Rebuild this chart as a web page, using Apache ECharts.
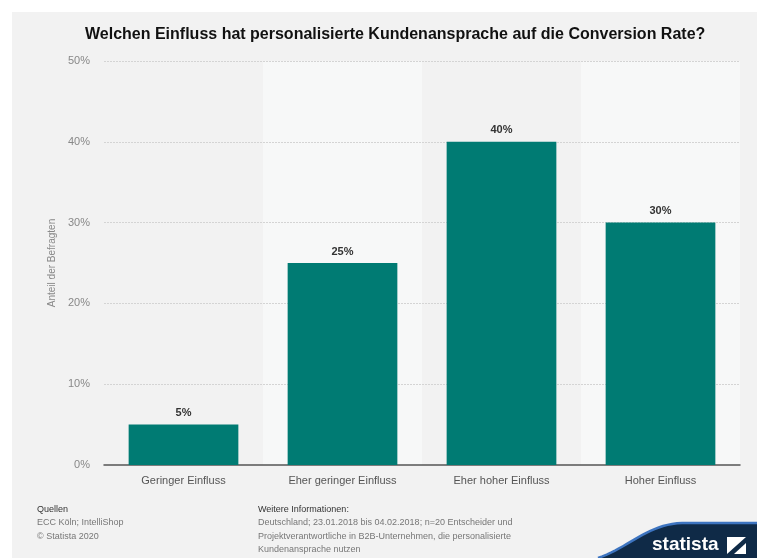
<!DOCTYPE html>
<html>
<head>
<meta charset="utf-8">
<script src="https://cdn.jsdelivr.net/npm/echarts@6/dist/echarts.min.js"></script>
<style>
html,body{margin:0;padding:0;background:#fff;}
#wrap{position:relative;width:757px;height:558px;}
#panel{position:absolute;left:12px;top:12px;right:0;bottom:0;background:#f2f2f2;}
#chart{position:absolute;left:0;top:0;width:757px;height:558px;}
</style>
</head>
<body>
<div id="wrap"><div id="panel"></div><div id="chart"></div></div>
<script>
const titleText = 'Welchen Einfluss hat personalisierte Kundenansprache auf die Conversion Rate?';
const categories = ['Geringer Einfluss', 'Eher geringer Einfluss', 'Eher hoher Einfluss', 'Hoher Einfluss'];
const values = [5, 25, 40, 30];
const yAxisName = 'Anteil der Befragten';
const sourceLines = ['Quellen', 'ECC Köln; IntelliShop', '© Statista 2020'];
const infoLines = ['Weitere Informationen:', 'Deutschland; 23.01.2018 bis 04.02.2018; n=20 Entscheider und', 'Projektverantwortliche in B2B-Unternehmen, die personalisierte', 'Kundenansprache nutzen'];

const chart = echarts.init(document.getElementById('chart'), null, {renderer: 'canvas'});
const font = '"Liberation Sans", Arial, Helvetica, sans-serif';

const graphics = [];
sourceLines.forEach((t, i) => {
  graphics.push({type: 'text', x: 37, y: 505 + i * 13.5, style: {text: t, font: '9px ' + font, fill: i === 0 ? '#333' : '#777'}});
});
infoLines.forEach((t, i) => {
  graphics.push({type: 'text', x: 258, y: 505 + i * 13.5, style: {text: t, font: '9px ' + font, fill: i === 0 ? '#333' : '#777'}});
});
// statista logo (decorative shape)
const curve = [];
const P0 = [598, 558], P1 = [628, 548], P2 = [648, 524], P3 = [682, 523];
for (let i = 0; i <= 20; i++) {
  const t = i / 20, u = 1 - t;
  curve.push([
    u*u*u*P0[0] + 3*u*u*t*P1[0] + 3*u*t*t*P2[0] + t*t*t*P3[0],
    u*u*u*P0[1] + 3*u*u*t*P1[1] + 3*u*t*t*P2[1] + t*t*t*P3[1]
  ]);
}
const edge = curve.concat([[757, 523]]);
graphics.push({type: 'polygon', z: 10, shape: {points: edge.concat([[757, 558]])}, style: {fill: '#0f2a47'}});
graphics.push({type: 'polyline', z: 11, shape: {points: edge}, style: {stroke: '#3d74c0', lineWidth: 2.5, fill: null}});
graphics.push({type: 'text', z: 11, x: 652, y: 535, style: {text: 'statista', font: 'bold 19px ' + font, fill: '#fff'}});
graphics.push({type: 'rect', z: 11, shape: {x: 727, y: 537, width: 19, height: 17}, style: {fill: '#fff'}});
graphics.push({type: 'polygon', z: 12, shape: {points: [[727,554],[746,537],[746,543],[734,554]]}, style: {fill: '#0f2a47'}});

chart.setOption({
  backgroundColor: 'transparent',
  animation: false,
  title: {
    text: titleText, left: 80, top: 22,
    textStyle: {fontFamily: font, fontSize: 16, fontWeight: 'bold', color: '#111'}
  },
  grid: {left: 104, right: 17, top: 61, bottom: 93, containLabel: false},
  xAxis: {
    type: 'category', data: categories, z: 0,
    axisLine: {lineStyle: {color: '#555', width: 1.5}},
    axisTick: {show: false},
    axisLabel: {fontFamily: font, fontSize: 11, color: '#555', margin: 10},
    splitArea: {show: true, areaStyle: {color: ['rgba(0,0,0,0)', '#f7f8f8']}}
  },
  yAxis: {
    type: 'value', min: 0, max: 50, interval: 10, z: 1,
    name: yAxisName, nameLocation: 'middle', nameGap: 42, nameRotate: 90,
    nameTextStyle: {fontFamily: font, fontSize: 10, color: '#888'},
    axisLabel: {formatter: '{value}%', fontFamily: font, fontSize: 11, color: '#888', margin: 14},
    axisLine: {show: false}, axisTick: {show: false},
    splitLine: {showMinLine: false, lineStyle: {color: '#d4d4d4', type: [2, 1], width: 1}}
  },
  series: [{
    type: 'bar', data: values, barWidth: '69%', z: 3,
    itemStyle: {color: '#007b73'},
    label: {show: true, position: 'top', formatter: '{c}%', fontFamily: font, fontSize: 11, fontWeight: 'bold', color: '#333', distance: 6}
  }],
  graphic: graphics
});
</script>
</body>
</html>
